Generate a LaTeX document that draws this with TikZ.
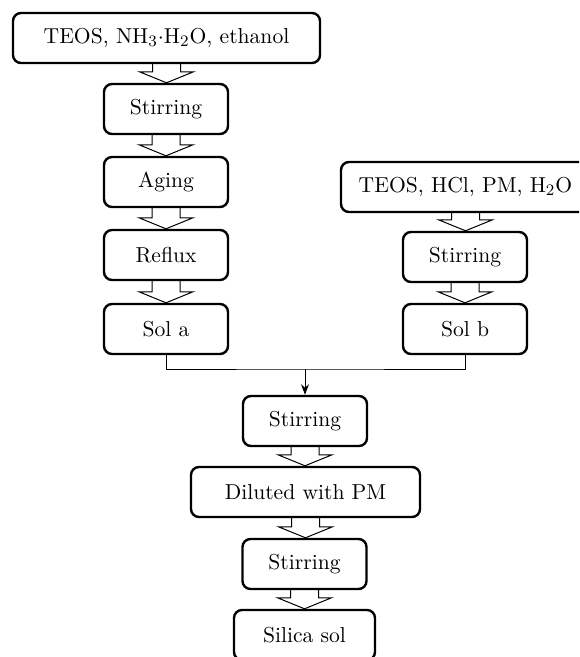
\documentclass[tikz,border=0pt]{standalone}
\usepackage{amsmath}
\usepackage{tikz}
\usetikzlibrary{arrows.meta,calc}

\tikzset{
  stepbox/.style={draw, rounded corners=4pt, line width=1.2pt, minimum height=25pt, minimum width=62pt},
  flowline/.style={line width=0.5pt}
}

\newcommand{\flowarrow}[2]{%
  \coordinate (tip) at (#1.south |- #2.north);
  \draw[flowline] ($(#1.south)+(-14,0)$) -- ($(tip)+(-14,-11)$)
    -- ($(tip)+(-27,-11)$) -- (tip) -- ($(tip)+(27,-11)$)
    -- ($(tip)+(14,-11)$) -- ($(#1.south)+(14,0)$);}

\begin{document}
\begin{tikzpicture}[x=0.5pt, y=-0.5pt, >=Stealth, font=\fontsize{10.8}{13}\selectfont]
  \useasboundingbox (0,0) rectangle (579,657);
  \clip (0,0) rectangle (579,657);
  \node[stepbox, minimum width=153.5pt] (srcA) at (166.5,38) {TEOS, NH$_3{\cdot}$H$_2$O, ethanol};
  \node[stepbox] (stirA) at (166,109) {Stirring};
  \node[stepbox] (aging) at (166,182) {Aging};
  \node[stepbox] (reflux) at (166,255) {Reflux};
  \node[stepbox] (solA) at (166,329) {Sol a};
  \node[stepbox, minimum width=124.5pt] (srcB) at (465.5,187) {TEOS, HCl, PM, H$_2$O};
  \node[stepbox] (stirB) at (465,257) {Stirring};
  \node[stepbox] (solB) at (465,329) {Sol b};
  \node[stepbox] (stirC) at (305,421) {Stirring};
  \node[stepbox, minimum width=114.5pt] (dilute) at (305.5,492) {Diluted with PM};
  \node[stepbox] (stirD) at (304.5,564) {Stirring};
  \node[stepbox, minimum width=70.5pt] (silica) at (304.5,635) {Silica sol};
  \coordinate (join) at (305,369);
  \flowarrow{srcA}{stirA}
  \flowarrow{stirA}{aging}
  \flowarrow{aging}{reflux}
  \flowarrow{reflux}{solA}
  \flowarrow{srcB}{stirB}
  \flowarrow{stirB}{solB}
  \flowarrow{stirC}{dilute}
  \flowarrow{dilute}{stirD}
  \flowarrow{stirD}{silica}
  \draw[flowline] (solA.south) |- (join) -| (solB.south);
  \draw[flowline, ->] (join) -- (stirC.north);
\end{tikzpicture}
\end{document}
